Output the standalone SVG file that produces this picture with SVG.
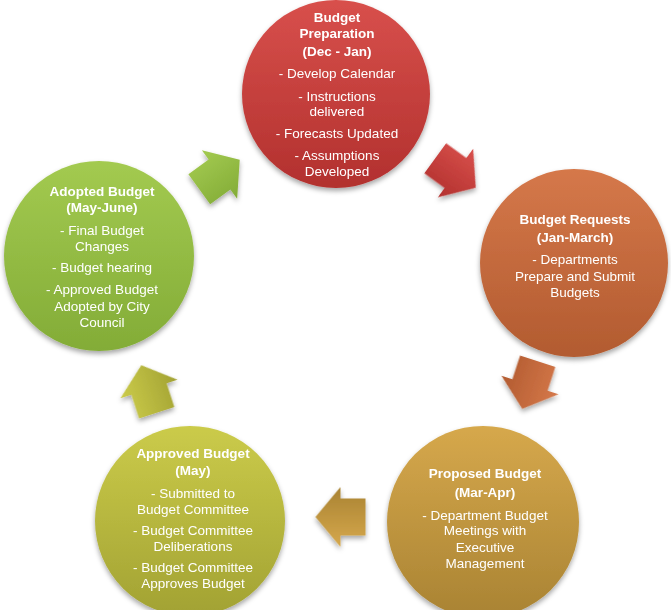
<svg xmlns="http://www.w3.org/2000/svg" width="671" height="610" viewBox="0 0 671 610">
<defs>
<style>
.t{font-family:"Liberation Sans",Arial,sans-serif;font-size:13.5px;fill:#fff;text-anchor:middle}
.b{font-weight:bold}
</style>
<filter id="sh" x="-20%" y="-20%" width="140%" height="150%">
<feDropShadow dx="0" dy="3" stdDeviation="2.5" flood-color="#000" flood-opacity="0.35"/>
</filter>
<linearGradient id="gRed" x1="0" y1="0" x2="0" y2="1"><stop offset="0" stop-color="#D8504C"/><stop offset="1" stop-color="#B2302E"/></linearGradient>
<linearGradient id="gOra" x1="0" y1="0" x2="0" y2="1"><stop offset="0" stop-color="#D5784A"/><stop offset="1" stop-color="#B25B30"/></linearGradient>
<linearGradient id="gGol" x1="0" y1="0" x2="0" y2="1"><stop offset="0" stop-color="#D6A84C"/><stop offset="1" stop-color="#A98333"/></linearGradient>
<linearGradient id="gYel" x1="0" y1="0" x2="0" y2="1"><stop offset="0" stop-color="#CBCB4A"/><stop offset="1" stop-color="#A2A233"/></linearGradient>
<linearGradient id="gGrn" x1="0" y1="0" x2="0" y2="1"><stop offset="0" stop-color="#A3CA50"/><stop offset="1" stop-color="#83AC37"/></linearGradient>
<path id="arr" d="M-25,-18.5 L0,-18.5 L0,-30 L25,0 L0,30 L0,18.5 L-25,18.5 Z"/>
</defs>

<g id="connectors" filter="url(#sh)">
<use href="#arr" transform="translate(219.5,174.5) rotate(-36)" fill="url(#gGrn)"/>
<use href="#arr" transform="translate(455.5,173) rotate(36)" fill="url(#gRed)"/>
<use href="#arr" transform="translate(530,385) rotate(108)" fill="url(#gOra)"/>
<use href="#arr" transform="translate(340.5,517) rotate(180)" fill="url(#gGol)"/>
<use href="#arr" transform="translate(149,389) rotate(252)" fill="url(#gYel)"/>
</g>

<g id="prep">
<circle cx="336" cy="94" r="94" fill="url(#gRed)" filter="url(#sh)"/>
<text class="t b" x="337" y="22">Budget</text>
<text class="t b" x="337" y="38">Preparation</text>
<text class="t b" x="337" y="56">(Dec - Jan)</text>
<text class="t" x="337" y="78">- Develop Calendar</text>
<text class="t" x="337" y="101">- Instructions</text>
<text class="t" x="337" y="116">delivered</text>
<text class="t" x="337" y="138">- Forecasts Updated</text>
<text class="t" x="337" y="160">- Assumptions</text>
<text class="t" x="337" y="176">Developed</text>
</g>

<g id="requests">
<circle cx="574" cy="263" r="94" fill="url(#gOra)" filter="url(#sh)"/>
<text class="t b" x="575" y="224">Budget Requests</text>
<text class="t b" x="575" y="242">(Jan-March)</text>
<text class="t" x="575" y="264">- Departments</text>
<text class="t" x="575" y="281">Prepare and Submit</text>
<text class="t" x="575" y="297">Budgets</text>
</g>

<g id="proposed">
<circle cx="483" cy="522" r="96" fill="url(#gGol)" filter="url(#sh)"/>
<text class="t b" x="485" y="478">Proposed Budget</text>
<text class="t b" x="485" y="497">(Mar-Apr)</text>
<text class="t" x="485" y="520">- Department Budget</text>
<text class="t" x="485" y="535">Meetings with</text>
<text class="t" x="485" y="552">Executive</text>
<text class="t" x="485" y="568">Management</text>
</g>

<g id="approved">
<circle cx="190" cy="521" r="95" fill="url(#gYel)" filter="url(#sh)"/>
<text class="t b" x="193" y="458">Approved Budget</text>
<text class="t b" x="193" y="475">(May)</text>
<text class="t" x="193" y="498">- Submitted to</text>
<text class="t" x="193" y="514">Budget Committee</text>
<text class="t" x="193" y="535">- Budget Committee</text>
<text class="t" x="193" y="551">Deliberations</text>
<text class="t" x="193" y="572">- Budget Committee</text>
<text class="t" x="193" y="588">Approves Budget</text>
</g>

<g id="adopted">
<circle cx="99" cy="256" r="95" fill="url(#gGrn)" filter="url(#sh)"/>
<text class="t b" x="102" y="196">Adopted Budget</text>
<text class="t b" x="102" y="212">(May-June)</text>
<text class="t" x="102" y="235">- Final Budget</text>
<text class="t" x="102" y="251">Changes</text>
<text class="t" x="102" y="272">- Budget hearing</text>
<text class="t" x="102" y="294">- Approved Budget</text>
<text class="t" x="102" y="311">Adopted by City</text>
<text class="t" x="102" y="327">Council</text>
</g>
</svg>
